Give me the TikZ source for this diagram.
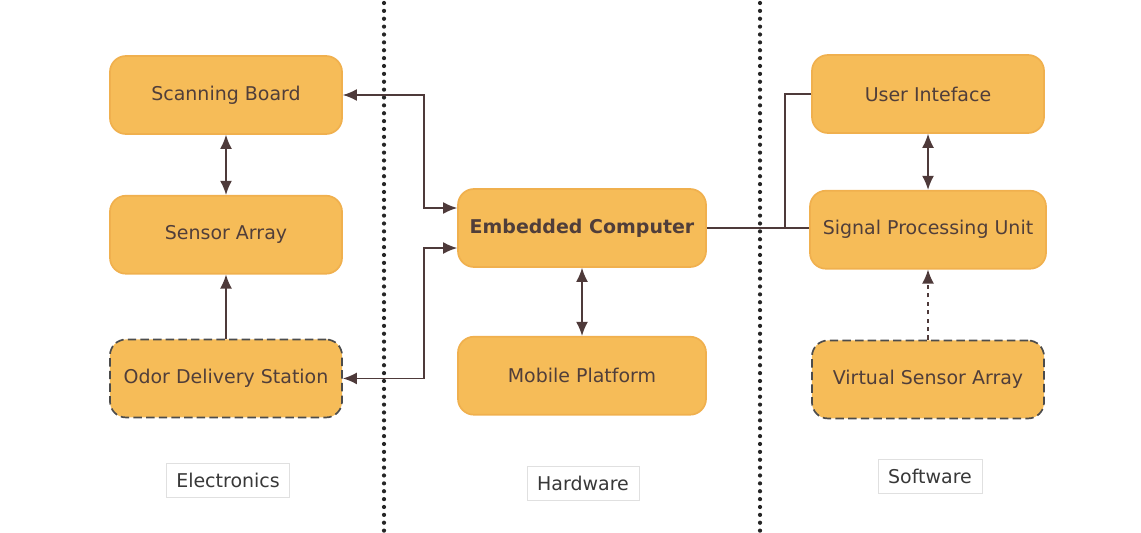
\documentclass[tikz,border=0pt]{standalone}
\usepackage{fontspec}
\setmainfont{DejaVu Sans}
\usepackage{tikz}
\usetikzlibrary{arrows.meta, calc, positioning}

\definecolor{boxfill}{RGB}{246,188,88}
\definecolor{boxedge}{RGB}{240,176,78}
\definecolor{inkcol}{RGB}{80,62,58}
\definecolor{wirecol}{RGB}{78,58,58}

\tikzset{
  block/.style = {draw=boxedge, line width=1.2pt, fill=boxfill, rounded corners=0.4cm,
                  minimum width=5.8cm, minimum height=1.95cm, text=inkcol},
  dashblock/.style = {block, draw=black!70, dash pattern=on 6pt off 3pt},
  section/.style = {draw=black!12, fill=white, text=black!78, inner xsep=0.25cm, minimum height=0.85cm},
  divider/.style = {line width=3pt, dash pattern=on 0pt off 5.6pt, line cap=round, black!85},
}

\begin{document}
\begin{tikzpicture}[x=0.025cm, y=-0.025cm, >={Latex[length=10pt,width=8.5pt]},
                    font=\fontsize{13.5}{16}\selectfont]

\useasboundingbox (0,0) rectangle (1141,532);

% section dividers
\draw[divider] (384,3) -- (384,532);
\draw[divider] (760,3) -- (760,532);

% electronics
\node[block] (scanning) at (226,95) {Scanning Board};
\node[block, below = 1.5cm of scanning] (sensor) {Sensor Array};
\node[dashblock, below = 1.6cm of sensor] (odor) {Odor Delivery Station};

% hardware
\node[block, minimum width=6.2cm, font=\fontsize{13.5}{16}\selectfont\bfseries] (computer) at (582,228) {Embedded Computer};
\node[block, minimum width=6.2cm, below = 1.7cm of computer] (mobile) {Mobile Platform};

% software
\node[block] (ui) at (928,94) {User Inteface};
\node[block, minimum width=5.9cm, below = 1.4cm of ui] (spu) {Signal Processing Unit};
\node[dashblock, below = 1.75cm of spu] (vsa) {Virtual Sensor Array};

% section names
\node[section] (electronics) at (228,480) {Electronics};
\node[section] (hardware) at (583,483) {Hardware};
\node[section] (software) at (930,476) {Software};

\begin{scope}[line width=1pt, draw=wirecol]
\draw[<->] (scanning) -- (sensor);
\draw[->] (odor) -- (sensor);
\draw[<->] (scanning.east) -| ([xshift=-0.825cm, yshift=0.5cm]computer.west) -- ([yshift=0.5cm]computer.west);
\draw[<->] (odor.east) -| ([xshift=-0.825cm, yshift=-0.5cm]computer.west) -- ([yshift=-0.5cm]computer.west);
\draw[<->] (computer) -- (mobile);
\draw (computer.east) -- (computer.east -| spu.west);
\draw (ui.west) -| ([xshift=-0.6cm]computer.east -| spu.west);
\draw[<->] (ui) -- (spu);
\draw[->, dashed] (vsa) -- (spu);
\end{scope}

\end{tikzpicture}
\end{document}
